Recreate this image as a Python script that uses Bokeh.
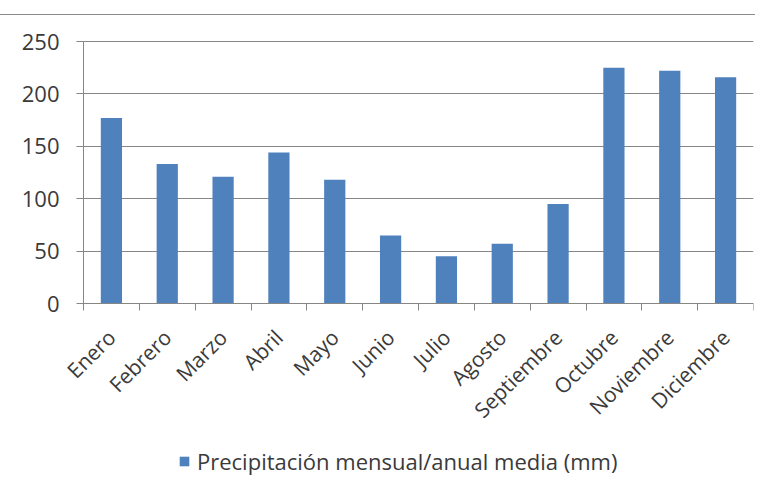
import numpy as np
from math import pi
from bokeh.plotting import figure
from bokeh.models import Range1d, FixedTicker, Legend, LegendItem
from bokeh.embed import file_html
from bokeh.resources import INLINE

months = ["Enero", "Febrero", "Marzo", "Abril", "Mayo", "Junio", "Julio",
          "Agosto", "Septiembre", "Octubre", "Noviembre", "Diciembre"]
precip = [177, 133, 121, 144, 118, 65, 45, 57, 95, 225, 222, 216]
y_ticks = [0, 50, 100, 150, 200, 250]
series_name = "Precipitación mensual/anual media (mm)"

FONT = "Open Sans"
TXT = "#3a3a3a"
GRAY = "#868686"
BLUE = "#4F81BD"

n = len(months)
xc = [i + 0.5 for i in range(n)]

# layout (pixels): the bar area is 670 x 262; the frame is extended to the
# left, top and bottom so that tick labels and the legend sit inside it.
PLOT_W, PLOT_H = 670, 262
PAD_L, PAD_B, PAD_T = 71, 177, 14
MB_LEFT = 100
px_x = PLOT_W / n
px_y = PLOT_H / y_ticks[-1]
x_start = -PAD_L / px_x
y_start = -PAD_B / px_y
y_end = y_ticks[-1] + PAD_T / px_y

p = figure(frame_width=PLOT_W + PAD_L, frame_height=PLOT_H + PAD_B + PAD_T,
           output_backend="svg", toolbar_location=None,
           x_range=Range1d(x_start, n), y_range=Range1d(y_start, y_end),
           min_border_left=MB_LEFT, min_border_right=2, min_border_top=26 - PAD_T,
           min_border_bottom=0)
p.styles = {"margin-top": "14px", "margin-left": f"{12 - MB_LEFT}px",
            "border-top": "1px solid #8a8a8a"}
p.outline_line_color = None
p.background_fill_color = "white"

r = p.vbar(x=xc, top=precip, width=0.38, fill_color=BLUE, line_color=None)

# x axis at y = 0
p.xaxis.fixed_location = 0
p.xaxis.bounds = (0, n)
p.xaxis.ticker = FixedTicker(ticks=xc, minor_ticks=list(range(n + 1)))
p.xaxis.major_label_overrides = {float(x): m for x, m in zip(xc, months)}
p.xaxis.major_label_orientation = pi / 4
p.xaxis.major_tick_line_color = None
p.xaxis.major_tick_out = 0
p.xaxis.major_tick_in = 0
p.xaxis.minor_tick_out = 7
p.xaxis.minor_tick_in = 0
p.xaxis.minor_tick_line_color = GRAY
p.xaxis.axis_line_color = GRAY
p.xaxis.major_label_standoff = 23
p.xaxis.major_label_text_font = FONT
p.xaxis.major_label_text_font_size = "21px"
p.xaxis.major_label_text_color = TXT

# y axis at x = 0
p.yaxis.fixed_location = 0
p.yaxis.bounds = (0, y_ticks[-1])
p.yaxis.ticker = FixedTicker(ticks=y_ticks)
p.yaxis.major_tick_out = 7
p.yaxis.major_tick_in = 0
p.yaxis.minor_tick_line_color = None
p.yaxis.major_tick_line_color = GRAY
p.yaxis.axis_line_color = GRAY
p.yaxis.major_label_standoff = 17
p.yaxis.major_label_text_font = FONT
p.yaxis.major_label_text_font_size = "22px"
p.yaxis.major_label_text_color = TXT

p.xgrid.grid_line_color = None
p.ygrid.ticker = FixedTicker(ticks=y_ticks)
try:
    p.ygrid.cross_bounds = (0, n)
    p.ygrid.grid_line_color = GRAY
except Exception:
    p.ygrid.grid_line_color = None
    p.segment(x0=0, x1=n, y0=y_ticks, y1=y_ticks, line_color=GRAY, line_width=1)

legend = Legend(items=[LegendItem(label=series_name, renderers=[r])],
                location=(PAD_L + 95, 4), orientation="horizontal",
                glyph_width=12, glyph_height=12, label_standoff=7,
                label_text_font=FONT, label_text_font_size="22px",
                label_text_color=TXT, border_line_color=None,
                background_fill_alpha=0, padding=0, margin=0)
p.add_layout(legend, "center")

open("out.html", "w").write(file_html(p, INLINE))
